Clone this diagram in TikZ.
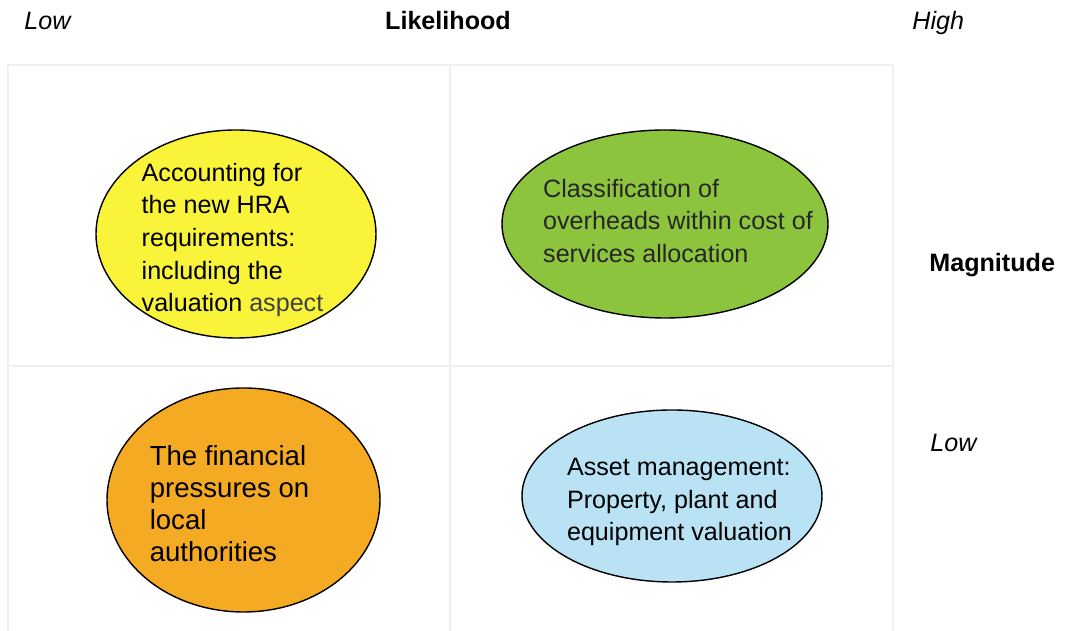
\documentclass[tikz,border=0pt]{standalone}
\usepackage{fontspec}
\setmainfont{Liberation Sans}
\usetikzlibrary{shapes.geometric}
\begin{document}
\begin{tikzpicture}[font=\fontsize{14.3}{16.4}\selectfont,
  oval/.style={ellipse,draw=black,line width=.8pt,inner sep=0pt},
  blurb/.style={align=left,inner sep=0pt,text=black,font=\fontsize{14.3}{18.6}\selectfont},
  axis/.style={inner sep=0pt,anchor=base west}]
\definecolor{hra}{HTML}{F9F43A}\definecolor{ovh}{HTML}{8CC43E}\definecolor{fin}{HTML}{F5AA24}\definecolor{ast}{HTML}{B9E3F4}\definecolor{rule}{HTML}{F0F0F0}
\useasboundingbox (0,0) rectangle (21.32,12.62);
% quadrant rules
\foreach \x in {.16,9.0,17.86}{\draw[rule,line width=1.1pt] (\x,11.32)--(\x,0);}
\foreach \y in {11.32,5.30}{\draw[rule,line width=1.1pt] (.16,\y)--(17.86,\y);}
% axis words
\node[axis,font=\fontsize{14.3}{16.4}\selectfont\itshape] (lowx) at (.48,12.02) {Low};\node[axis,anchor=base,font=\fontsize{14.3}{16.4}\selectfont\bfseries] (likely) at (8.96,12.02) {Likelihood};\node[axis,font=\fontsize{14.3}{16.4}\selectfont\itshape] (highx) at (18.24,12.02) {High};
\node[axis,font=\fontsize{14.3}{16.4}\selectfont\bfseries] (magn) at (18.58,7.18) {Magnitude};\node[axis,font=\fontsize{14.3}{16.4}\selectfont\itshape] (lowy) at (18.60,3.58) {Low};
% the four risks
\node[oval,fill=hra,minimum width=5.6cm,minimum height=4.16cm] (hraoval) at (4.72,7.94) {};\node[blurb] (hratext) at (4.65,7.82) {Accounting for\\the new HRA\\requirements:\\including the\\valuation {\color{black!75}aspect}};
\node[oval,fill=ovh,minimum width=6.52cm,minimum height=3.76cm] (ovhoval) at (13.30,8.14) {};\node[blurb,text=black!85] (ovhtext) at (13.56,8.20) {Classification of\\overheads within cost of\\services allocation};
\node[oval,fill=fin,minimum width=5.46cm,minimum height=4.48cm] (finoval) at (4.87,2.62) {};\node[blurb,font=\fontsize{15.7}{18.2}\selectfont] (fintext) at (4.59,2.54) {The financial\\pressures on\\local\\authorities};
\node[oval,fill=ast,minimum width=6.0cm,minimum height=3.44cm] (astoval) at (13.44,2.70) {};\node[blurb] (asttext) at (13.59,2.58) {Asset management:\\Property, plant and\\equipment valuation};
\end{tikzpicture}
\end{document}
